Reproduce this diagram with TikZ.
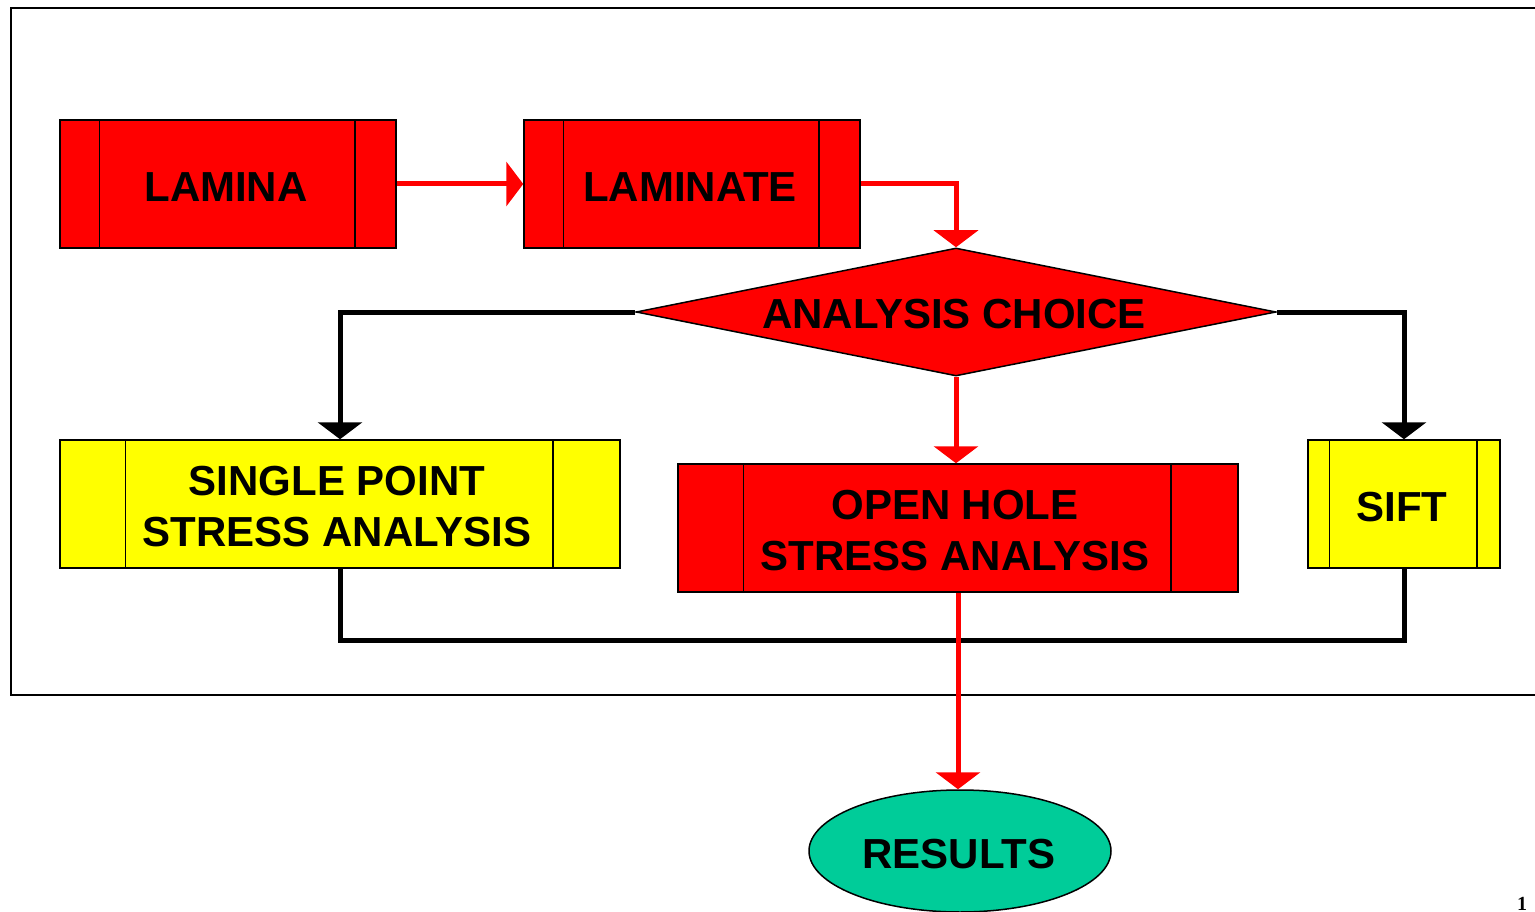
\documentclass[tikz,border=0pt]{standalone}
\usepackage{fontspec}
\setmainfont{Liberation Sans}
\newfontfamily\pagenumfont{Liberation Serif}
\usetikzlibrary{arrows.meta,shapes.geometric}
\definecolor{boxred}{RGB}{255,0,0}
\definecolor{boxyellow}{RGB}{255,255,0}
\definecolor{resgreen}{RGB}{0,204,153}
\tikzset{
  procbox/.style={draw=black, line width=1.5pt, rectangle, inner sep=0pt},
  redbox/.style={procbox, fill=boxred},
  yellowbox/.style={procbox, fill=boxyellow},
  boxtext/.style={inner sep=0pt, align=center, font=\bfseries\fontsize{42}{51}\selectfont},
  divider/.style={draw=black, line width=1.5pt},
  redflow/.style={draw=boxred, line width=5pt, -{Triangle[width=44pt,length=17pt]}},
  blackflow/.style={draw=black, line width=5pt, -{Triangle[width=44pt,length=17pt]}},
  blackline/.style={draw=black, line width=5pt},
  frameline/.style={draw=black, line width=2pt},
}
\begin{document}
\begin{tikzpicture}[x=1pt,y=-1pt]
\useasboundingbox (0,0) rectangle (1535,912);
% frame
\draw[frameline] (1545,8) -- (11,8) -- (11,695) -- (1545,695);

% shapes
\node[redbox, minimum width=336pt, minimum height=128pt] (lamina) at (228,184) {};
\node[redbox, minimum width=336pt, minimum height=128pt] (laminate) at (692,184) {};
\node[draw=black, line width=1.5pt, fill=boxred, shape=diamond,
      inner sep=0pt, minimum width=640pt, minimum height=128pt] (choice) at (956,312) {};
\node[yellowbox, minimum width=560pt, minimum height=128pt] (single) at (340,504) {};
\node[redbox, minimum width=560pt, minimum height=128pt] (openhole) at (958,528) {};
\node[yellowbox, minimum width=192pt, minimum height=128pt] (sift) at (1404,504) {};
\node[draw=black, line width=1.5pt, fill=resgreen, shape=ellipse, inner sep=0pt,
      minimum width=302pt, minimum height=122pt] (results) at (960,851) {};

% inner divider lines
\draw[divider] ([xshift=40pt]lamina.north west) -- ([xshift=40pt]lamina.south west);
\draw[divider] ([xshift=-42pt]lamina.north east) -- ([xshift=-42pt]lamina.south east);
\draw[divider] ([xshift=40pt]laminate.north west) -- ([xshift=40pt]laminate.south west);
\draw[divider] ([xshift=-42pt]laminate.north east) -- ([xshift=-42pt]laminate.south east);
\draw[divider] ([xshift=66pt]single.north west) -- ([xshift=66pt]single.south west);
\draw[divider] ([xshift=-68pt]single.north east) -- ([xshift=-68pt]single.south east);
\draw[divider] ([xshift=66pt]openhole.north west) -- ([xshift=66pt]openhole.south west);
\draw[divider] ([xshift=-68pt]openhole.north east) -- ([xshift=-68pt]openhole.south east);
\draw[divider] ([xshift=22pt]sift.north west) -- ([xshift=22pt]sift.south west);
\draw[divider] ([xshift=-24pt]sift.north east) -- ([xshift=-24pt]sift.south east);

% texts
\node[boxtext] (laminaT) at ([xshift=-2pt,yshift=-3pt]lamina.center) {LAMINA};
\node[boxtext] (laminateT) at ([xshift=-2pt,yshift=-3pt]laminate.center) {LAMINATE};
\node[boxtext] (choiceT) at ([xshift=-2pt,yshift=-2pt]choice.center) {ANALYSIS CHOICE};
\node[boxtext] (singleT) at ([xshift=-3pt,yshift=-3pt]single.center) {SINGLE POINT\\STRESS ANALYSIS};
\node[boxtext] (openholeT) at ([xshift=-3pt,yshift=-3pt]openhole.center) {OPEN HOLE\\STRESS ANALYSIS};
\node[boxtext] (siftT) at ([xshift=-2pt,yshift=-3pt]sift.center) {SIFT};
\node[boxtext] (resultsT) at ([xshift=-1pt,yshift=-3pt]results.center) {RESULTS};

% connectors
\draw[redflow] (lamina.east) -- (laminate.west);
\draw[redflow] (laminate.east) -| (choice.north);
\draw[blackflow] (choice.west) -| (single.north);
\draw[blackflow] (choice.east) -| (sift.north);
\draw[redflow] (choice.south) -- (choice.south |- openhole.north);
\coordinate (bus) at (0,640);
\draw[blackline] (single.south) -- (single.south |- bus) -| (sift.south);
\draw[redflow] (openhole.south) -- (openhole.south |- results.north);

% page number
\node[anchor=base, inner sep=0pt, font=\pagenumfont\bfseries\fontsize{20}{22}\selectfont] (pagenum) at (1522,910) {1};
\end{tikzpicture}
\end{document}
